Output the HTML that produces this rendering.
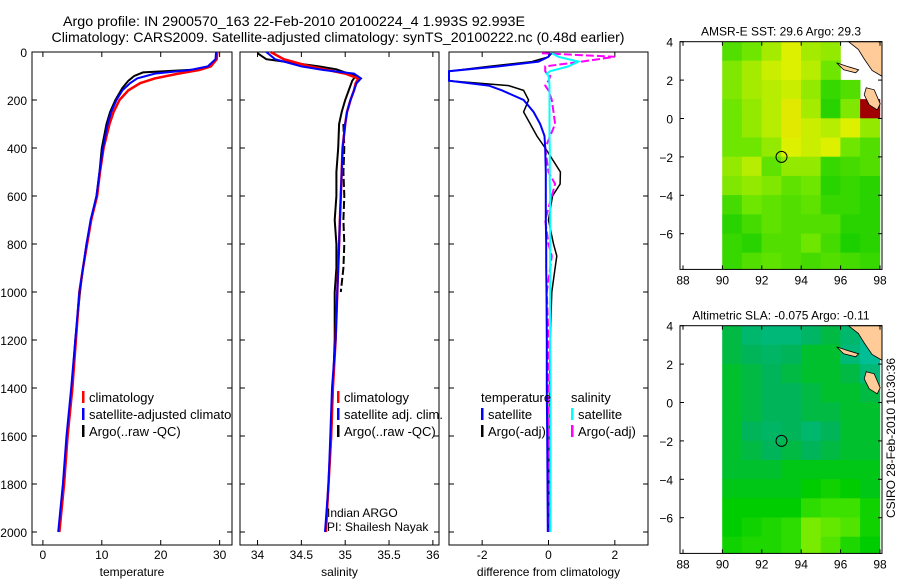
<!DOCTYPE html>
<html><head><meta charset="utf-8"><style>
html,body{margin:0;padding:0;background:#fff;}
svg{display:block;font-family:"Liberation Sans",sans-serif;}
</style></head><body>
<svg id="fig" width="900" height="580" viewBox="0 0 900 580">
<defs><clipPath id="clipP1"><rect x="32" y="52" width="200" height="493"/></clipPath></defs>
<text x="294" y="26" font-size="14" text-anchor="middle" textLength="462" lengthAdjust="spacingAndGlyphs">Argo profile: IN 2900570_163 22-Feb-2010 20100224_4 1.993S 92.993E</text>
<text x="338" y="42" font-size="14" text-anchor="middle" textLength="573" lengthAdjust="spacingAndGlyphs">Climatology: CARS2009. Satellite-adjusted climatology: synTS_20100222.nc (0.48d earlier)</text>
<g id="g"></g>
</svg>
<script>
// ---------- profile data ----------
const depthClim = [0,30,60,75,90,110,130,160,200,250,300,400,500,600,700,800,900,1000,1200,1400,1600,1800,2000];
const tempClim  = [29.6,29.5,28.5,26.5,23,19,16.5,14.5,13,12,11.3,10.3,9.7,9.2,8.2,7.5,6.8,6.2,5.6,5.0,4.2,3.6,2.8];
const tempSat   = [29.4,29.3,28,25,19,16,14.8,13.5,12.5,11.6,11.0,10.2,9.6,9.1,8.1,7.4,6.8,6.2,5.5,4.8,4.0,3.4,2.6];
const depthArgo = [5,30,60,72,85,100,120,150,200,250,300,400,500,600,700,800,900,1000,1200,1400,1600,1800,2000];
const tempArgo  = [29.6,29.4,28.5,27,17,15.5,14.5,13.5,12.3,11.4,10.8,10,9.6,9.1,8.2,7.4,6.8,6.3,5.5,4.9,4.1,3.5,2.7];
const salClim   = [34.15,34.3,34.6,34.8,35.0,35.15,35.12,35.1,35.06,35.02,35.0,34.97,34.96,34.95,34.94,34.93,34.92,34.91,34.89,34.86,34.84,34.81,34.78];
const salSat    = [34.1,34.2,34.5,34.75,35.1,35.18,35.13,35.1,35.06,35.02,35.0,34.97,34.96,34.95,34.94,34.93,34.92,34.91,34.89,34.85,34.83,34.81,34.77];
const salArgo   = [34.0,34.1,34.7,34.9,35.0,35.12,35.08,35.05,35.0,34.96,34.93,34.92,34.9,34.9,34.88,34.9,34.9,34.88,34.88,34.86,34.84,34.81,34.78];
const depthArgoQc = [300,400,500,600,700,800,900,1000];
const salArgoQc   = [34.98,34.99,34.98,34.99,34.98,34.99,34.98,34.95];
const depthDiff = [5,20,40,60,80,90,100,120,140,160,200,250,300,350,400,500,550,600,700,800,850,900,1000,1200,1400,1600,1800,2000];
const dTempSat  = [0.05,0.0,-0.3,-1.5,-3.2,-3.2,-3.2,-3.2,-1.8,-1.4,-0.75,-0.45,-0.25,-0.12,-0.1,-0.08,-0.08,-0.08,-0.08,-0.07,-0.07,-0.07,-0.06,-0.05,-0.05,-0.04,-0.03,-0.02];
const dTempArgo = [0.1,0.0,-0.5,-1.8,-3.2,-3.2,-3.2,-3.2,-1.2,-0.75,-0.6,-0.75,-0.55,-0.35,-0.1,0.36,0.35,0.12,0.0,0.15,0.25,0.2,0.1,0.05,0.03,0.02,0.01,0.0];
const dSalSat   = [0.1,0.3,0.9,0.6,0.05,-0.05,0.0,0.02,0.03,0.03,0.03,0.03,0.03,0.03,0.04,0.04,0.04,0.05,0.05,0.05,0.05,0.05,0.05,0.05,0.06,0.06,0.06,0.06];
const dSalArgo  = [-0.2,2.0,1.0,-0.1,-0.1,-0.05,0.05,0.0,-0.1,0.0,0.1,0.15,0.2,0.05,-0.1,0.0,0.2,0.1,-0.1,0.0,0.1,0.05,-0.05,0.0,0.0,0.0,0.0,0.0];
const tempTicks = [0,10,20,30];
const salTicks  = [34,34.5,35,35.5,36];
const salTickLabels = ["34","34.5","35","35.5","36"];
const diffTicks = [-2,0,2];
const depthTicks = [0,200,400,600,800,1000,1200,1400,1600,1800,2000];
// ---------- map data (1-degree cells, rows lat 4..-8, cols lon 90..98) ----------
const sstGrid = [
 [0.3,0.4,0.55,0.7,0.55,0.5,null,null],
 [0.45,0.55,0.65,0.7,0.6,0.4,null,null],
 [0.45,0.55,0.6,0.65,0.5,0.2,0.3,null],
 [0.4,0.5,0.6,0.75,0.55,0.15,0.45,2],
 [0.4,0.5,0.6,0.75,0.65,0.6,0.7,0.5],
 [0.4,0.4,0.5,0.7,0.65,0.7,0.4,0.3],
 [0.5,0.6,0.35,0.5,0.5,0.2,0.25,0.3],
 [0.45,0.5,0.45,0.35,0.4,0.15,0.2,0.15],
 [0.25,0.4,0.35,0.3,0.35,0.2,0.2,0.15],
 [0.15,0.25,0.35,0.3,0.3,0.3,0.15,0.15],
 [0.2,0.15,0.3,0.3,0.4,0.25,0.1,0.15],
 [0.2,0.3,0.35,0.3,0.25,0.3,0.25,0.2]];
const slaGrid = [
 [0.35,0.2,0.15,0.15,0.25,0.35,0.2,0.0],
 [0.35,0.3,0.25,0.3,0.4,0.4,0.15,0.0],
 [0.4,0.35,0.3,0.35,0.4,0.4,0.35,0.15],
 [0.4,0.35,0.3,0.3,0.35,0.4,0.4,0.35],
 [0.4,0.35,0.3,0.3,0.35,0.35,0.4,0.4],
 [0.4,0.3,0.25,0.3,0.2,0.3,0.4,0.4],
 [0.4,0.35,0.3,0.35,0.3,0.35,0.4,0.4],
 [0.4,0.4,0.4,0.45,0.45,0.45,0.45,0.45],
 [0.45,0.45,0.45,0.45,0.5,0.55,0.5,0.45],
 [0.5,0.5,0.5,0.5,0.65,0.7,0.7,0.55],
 [0.5,0.55,0.6,0.65,0.85,0.8,0.75,0.55],
 [0.55,0.6,0.6,0.65,0.85,0.75,0.6,0.5]];
const lonTicks = [88,90,92,94,96,98];
const latTicks = [4,2,0,-2,-4,-6];
const argoLon = [93];
const argoLat = [-2];

const NS="http://www.w3.org/2000/svg";
const G=document.getElementById('g');
function mk(tag,attrs,parent){const e=document.createElementNS(NS,tag);for(const k in attrs)e.setAttribute(k,attrs[k]);(parent||G).appendChild(e);return e;}
function txt(x,y,s,size,anchor,parent){const t=mk('text',{x:x,y:y,'font-size':size,'text-anchor':anchor||'middle'},parent);t.textContent=s;return t;}

const yTop=52, yBot=545, pxPerM=0.24;
const yD=d=>yTop+d*pxPerM;
const panels=[
 {name:'temperature',x0:32,x1:232,vmin:-1.85,vmax:32.1,ticks:tempTicks,labels:tempTicks.map(String),label:'temperature'},
 {name:'salinity',x0:240,x1:439,vmin:33.8,vmax:36.07,ticks:salTicks,labels:salTickLabels,label:'salinity'},
 {name:'difference',x0:449,x1:648,vmin:-3,vmax:3,ticks:diffTicks,labels:diffTicks.map(String),label:'difference from climatology'}];
panels.forEach(p=>{p.sx=v=>p.x0+(v-p.vmin)/(p.vmax-p.vmin)*(p.x1-p.x0);});

function line(p,depths,vals,color,name,width,dash){
  const pts=depths.map((d,i)=>{let v=Math.max(p.vmin,Math.min(p.vmax,vals[i]));return p.sx(v).toFixed(1)+','+yD(d).toFixed(1);}).join(' ');
  const el=mk('polyline',{points:pts,fill:'none',stroke:color,'stroke-width':width||2,'stroke-dasharray':dash||'none'});
  
  
}

panels.forEach((p,pi)=>{
  const ax=mk('g',{});
  
  
  mk('rect',{x:p.x0,y:yTop,width:p.x1-p.x0,height:yBot-yTop,fill:'#fff',stroke:'#000','stroke-width':1},ax);
  p.ticks.forEach((t,i)=>{
    const x=p.sx(t);
    mk('line',{x1:x,x2:x,y1:yBot,y2:yBot-5,stroke:'#000'},ax);
    mk('line',{x1:x,x2:x,y1:yTop,y2:yTop+5,stroke:'#000'},ax);
    const lt=txt(x,559,p.labels[i],12,'middle',ax);
    
    
  });
  depthTicks.forEach(d=>{
    const y=yD(d);
    mk('line',{x1:p.x0,x2:p.x0+5,y1:y,y2:y,stroke:'#000'},ax);
    mk('line',{x1:p.x1,x2:p.x1-5,y1:y,y2:y,stroke:'#000'},ax);
    if(pi===0){const l=txt(27,y+5,String(d),12,'end',ax);
      
      }
  });
  const xl=txt((p.x0+p.x1)/2,576,p.label,12,'middle',ax);
  
  
});
const [P1,P2,P3]=panels;
line(P1,depthArgo,tempArgo,'#000','temp-argo-line',2);
line(P1,depthClim,tempClim,'#f00','temp-climatology-line',2.5);
line(P1,depthClim,tempSat,'#00f','temp-satellite-line',2);
line(P2,depthArgo,salArgo,'#000','sal-argo-line',2);
line(P2,depthArgoQc,salArgoQc,'#000','sal-argo-qc-line',2,'8,3');
line(P2,depthClim,salClim,'#f00','sal-climatology-line',2.5);
line(P2,depthClim,salSat,'#00f','sal-satellite-line',2);
line(P3,depthDiff,dTempArgo,'#000','diff-temp-argo-line',1.5);
line(P3,depthDiff,dSalArgo,'#f0f','diff-sal-argo-line',2,'8,3');
line(P3,depthDiff,dTempSat,'#00f','diff-temp-satellite-line',2);
line(P3,depthDiff,dSalSat,'#0ff','diff-sal-satellite-line',2);

function legend(x,y,items,name,clip){
  const g=mk('g',clip?{'clip-path':'url(#'+clip+')'}:{});
  
  
  items.forEach((it,i)=>{
    const yy=y+i*17;
    if(it[0])mk('rect',{x:x,y:yy-11,width:2.5,height:12,fill:it[0]},g);
    txt(x+(it[0]?7:0),yy,it[1],13,'start',g);
  });
}
legend(82,402,[['#f00','climatology'],['#00f','satellite-adjusted climatology'],['#000','Argo(..raw -QC)']],'temp-legend','clipP1');
legend(337,402,[['#f00','climatology'],['#00f','satellite adj. clim.'],['#000','Argo(..raw -QC)']],'sal-legend');
legend(481,402,[[null,'temperature'],['#00f','satellite'],['#000','Argo(-adj)']],'diff-temp-legend');
legend(571,402,[[null,'salinity'],['#0ff','satellite'],['#f0f','Argo(-adj)']],'diff-sal-legend');
const pi1=txt(327,517,'Indian ARGO',12,'start');
const pi2=txt(327,531,'PI: Shailesh Nayak',12,'start');

// ---------- maps ----------
function lerp(a,b,t){return a.map((v,i)=>Math.round(v+(b[i]-v)*t));}
function sstColor(v){ if(v===2)return '#a00000';
  const stops=[[0,[0,200,0]],[0.4,[110,230,0]],[0.7,[220,240,0]],[1,[255,200,0]]];
  for(let i=1;i<stops.length;i++){if(v<=stops[i][0]){const t=(v-stops[i-1][0])/(stops[i][0]-stops[i-1][0]);const c=lerp(stops[i-1][1],stops[i][1],t);return `rgb(${c})`;}}
  return 'rgb(255,200,0)';}
function slaColor(v){
  const stops=[[0,[0,190,150]],[0.3,[0,180,90]],[0.5,[0,205,0]],[0.7,[60,225,0]],[1,[180,245,0]]];
  for(let i=1;i<stops.length;i++){if(v<=stops[i][0]){const t=(v-stops[i-1][0])/(stops[i][0]-stops[i-1][0]);const c=lerp(stops[i-1][1],stops[i][1],t);return `rgb(${c})`;}}
  return 'rgb(180,245,0)';}
function drawMap(m){
  const sx=lon=>683+(lon-88)*19.7, sy=lat=>m.y4+(4-lat)*19.2;
  const g=mk('g',{});
  
  
  mk('rect',{x:680,y:sy(4),width:202,height:sy(-7.86)-sy(4),fill:'#fff'},g);
  m.grid.forEach((row,r)=>row.forEach((v,c)=>{
    if(v===null)return;
    const lat0=4-r, lat1=Math.max(-7.86,3-r);
    const cell=mk('rect',{x:sx(90+c)-0.2,y:sy(lat0)-0.2,width:19.7+0.4,height:sy(lat1)-sy(lat0)+0.4,fill:m.color(v)},g);
    
    
  }));
  const land=mk('path',{d:`M${sx(96.4)},${sy(4)} L${sx(98.1)},${sy(4)} L${sx(98.1)},${sy(2.2)} L${sx(97.6)},${sy(2.5)} L${sx(97.2)},${sy(3.1)} L${sx(96.9)},${sy(3.6)} Z
   M${sx(95.8)},${sy(2.9)} l12,4 l10,3 l-3,3 l-12,-3 Z M${sx(97.3)},${sy(1.6)} l8,2 l6,14 l-3,6 l-8,-5 l-5,-10 Z`,fill:'#ffcc99',stroke:'#000','stroke-width':0.8},g);
  
  
  mk('rect',{x:680,y:sy(4),width:202,height:sy(-7.86)-sy(4),fill:'none',stroke:'#000'},g);
  lonTicks.forEach(l=>{mk('line',{x1:sx(l),x2:sx(l),y1:sy(-7.86),y2:sy(-7.86)-4,stroke:'#000'},g);mk('line',{x1:sx(l),x2:sx(l),y1:sy(4),y2:sy(4)+4,stroke:'#000'},g);
    const t=txt(sx(l),sy(-7.86)+15,String(l),12,'middle',g);});
  latTicks.forEach(l=>{mk('line',{x1:680,x2:684,y1:sy(l),y2:sy(l),stroke:'#000'},g);mk('line',{x1:882,x2:878,y1:sy(l),y2:sy(l),stroke:'#000'},g);
    const t=txt(673,sy(l)+5,String(l).replace('-','−'),12,'end',g);});
  argoLon.forEach((lo,i)=>{const c=mk('circle',{cx:sx(lo),cy:sy(argoLat[i]),r:5.5,fill:'none',stroke:'#000','stroke-width':1},g);
    });
  const t=txt(781,m.y4-6,m.title,12,'middle',g);
}
drawMap({name:'sst-map',grid:sstGrid,color:sstColor,y4:41.7,title:'AMSR-E SST: 29.6 Argo: 29.3'});
drawMap({name:'sla-map',grid:slaGrid,color:slaColor,y4:325.7,title:'Altimetric SLA: -0.075 Argo: -0.11'});
const st=txt(0,0,'CSIRO 28-Feb-2010 10:30:36',12,'middle');
st.setAttribute('transform','translate(895,438) rotate(-90)');


</script>
</body></html>
